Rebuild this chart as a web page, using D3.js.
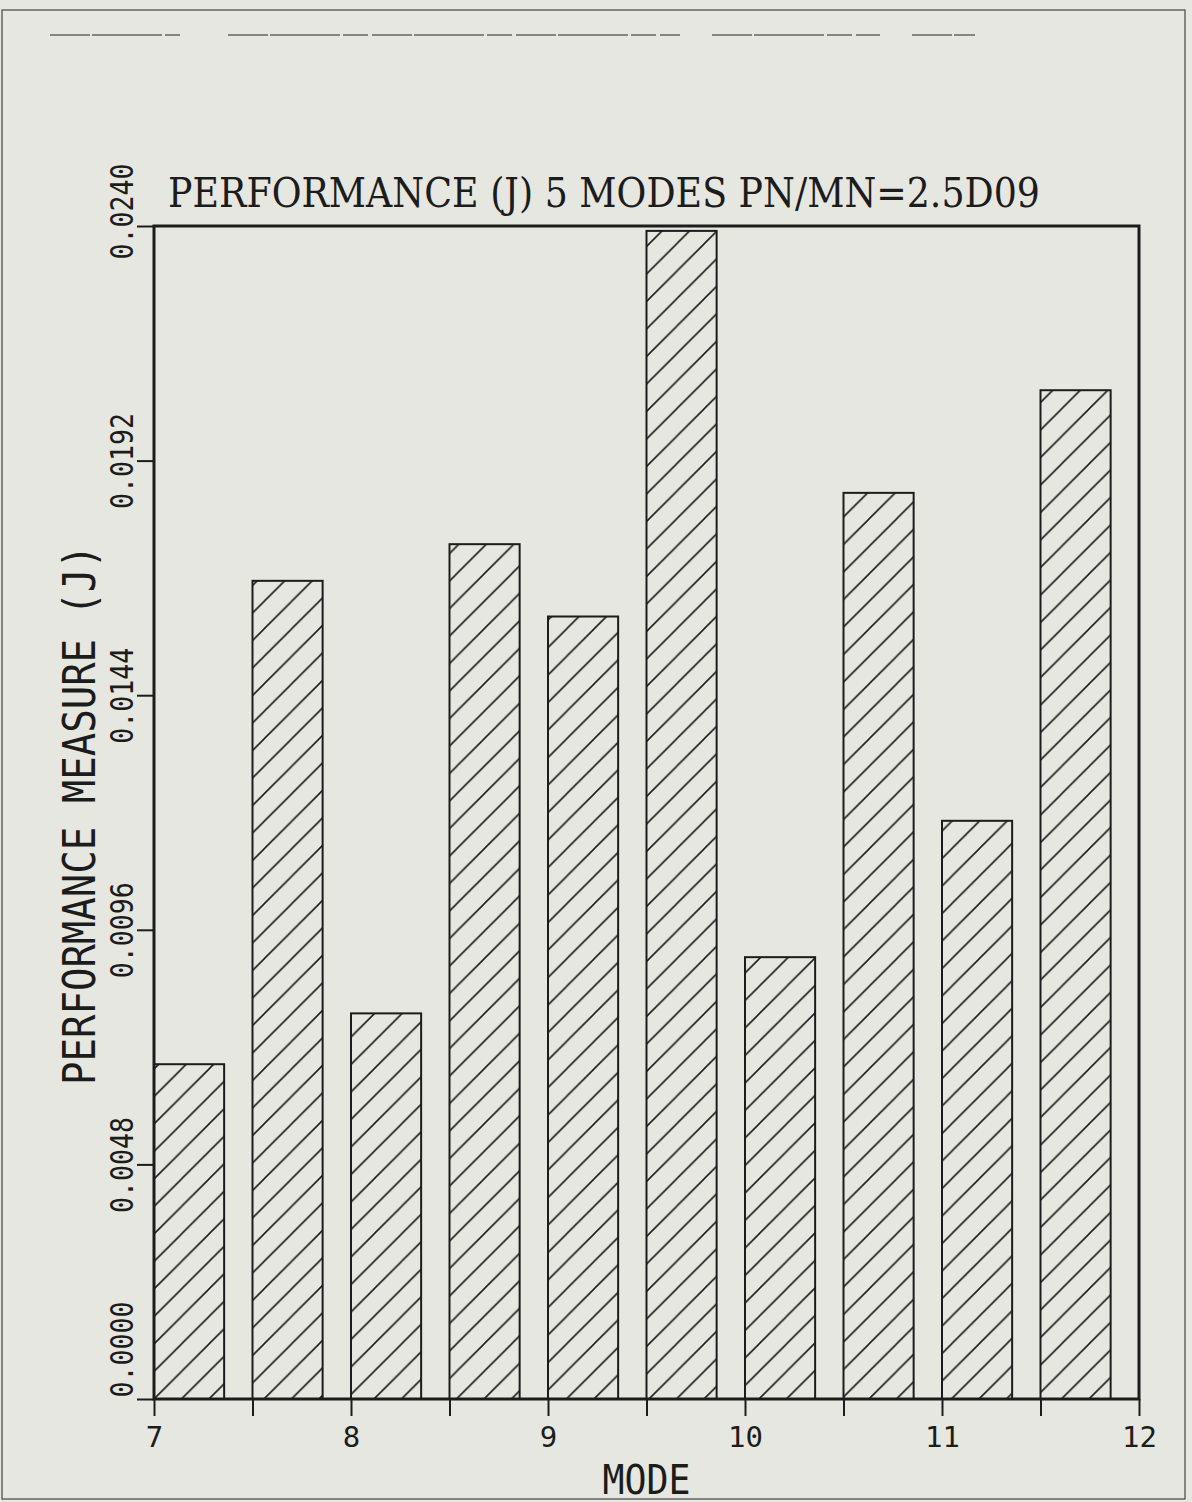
<!DOCTYPE html>
<html>
<head>
<meta charset="utf-8">
<script src="https://cdn.jsdelivr.net/npm/d3@7"></script>
<style>
  html, body { margin: 0; padding: 0; background: #e7e7e1; }
  svg { display: block; }
</style>
</head>
<body>
<svg id="chart" width="1192" height="1502"></svg>
<script>
// ---- data ----
const titleText = "PERFORMANCE (J) 5 MODES PN/MN=2.5D09";
const xLabel = "MODE";
const yLabel = "PERFORMANCE MEASURE (J)";
const barStarts = [7, 7.5, 8, 8.5, 9, 9.5, 10, 10.5, 11, 11.5];
const barValues = [0.00685, 0.01674, 0.00789, 0.01749, 0.01601, 0.02390, 0.00904, 0.01854, 0.01183, 0.02064];
const barWidthUnits = 0.356;
const xTicks = [7, 7.5, 8, 8.5, 9, 9.5, 10, 10.5, 11, 11.5, 12];
const yTicks = [0, 0.0048, 0.0096, 0.0144, 0.0192, 0.0240];
const yTickLabels = ["0.0000", "0.0048", "0.0096", "0.0144", "0.0192", "0.0240"];

(function () {
// ---- layout ----
const svg = d3.select("#chart");
const ink = "#1c1c1c";
const pL = 154, pR = 1139, pT = 226, pB = 1399;
const x = d3.scaleLinear().domain([7, 12]).range([pL, pR]);
const y = d3.scaleLinear().domain([0, 0.024]).range([pB, pT]);

// outer page frame
svg.append("rect").attr("x", 2).attr("y", 10).attr("width", 1183).attr("height", 1489)
  .attr("fill", "none").attr("stroke", "#444").attr("stroke-width", 1.2);
// faint broken line near top
const dashSegs = [[50, 180], [228, 680], [712, 880], [912, 975]];
svg.selectAll("line.dash").data(dashSegs).enter().append("line")
  .attr("x1", d => d[0]).attr("x2", d => d[1]).attr("y1", 35).attr("y2", 35)
  .attr("stroke", "#666").attr("stroke-width", 1.3).attr("stroke-dasharray", "40,2,70,3,25,4");

// hatch pattern
const defs = svg.append("defs");
const s = 27.5;
const pat = defs.append("pattern").attr("id", "hatch").attr("patternUnits", "userSpaceOnUse")
  .attr("width", s).attr("height", s).attr("x", pL).attr("y", pB);
pat.append("path")
  .attr("d", `M0,${s} L${s},0 M${-s/4},${s/4} L${s/4},${-s/4} M${s*3/4},${s*5/4} L${s*5/4},${s*3/4}`)
  .attr("stroke", ink).attr("stroke-width", 1.6).attr("fill", "none");

// bars
svg.selectAll("rect.bar").data(barStarts).enter().append("rect")
  .attr("class", "bar")
  .attr("x", d => x(d))
  .attr("width", d => x(d + barWidthUnits) - x(d))
  .attr("y", (d, i) => y(barValues[i]))
  .attr("height", (d, i) => y(0) - y(barValues[i]))
  .attr("fill", "url(#hatch)")
  .attr("stroke", ink).attr("stroke-width", 2);

// plot frame
svg.append("rect").attr("x", pL).attr("y", pT).attr("width", pR - pL).attr("height", pB - pT)
  .attr("fill", "none").attr("stroke", ink).attr("stroke-width", 3);

const axisFont = "'DejaVu Sans Mono', 'DejaVu Sans', sans-serif";

// x axis
const xAxis = d3.axisBottom(x).tickValues(xTicks).tickSize(17).tickSizeOuter(0)
  .tickFormat(d => Number.isInteger(d) ? String(d) : "");
const gx = svg.append("g").attr("transform", `translate(0,${pB})`).call(xAxis);
gx.select(".domain").remove();
gx.selectAll(".tick line").attr("stroke", ink).attr("stroke-width", 2);
gx.selectAll(".tick text").attr("fill", ink).attr("font-family", axisFont)
  .attr("font-size", 29).attr("dy", 0).attr("y", 48);

// y axis
const yAxis = d3.axisLeft(y).tickValues(yTicks).tickSize(17).tickSizeOuter(0)
  .tickFormat((d, i) => yTickLabels[i]);
const gy = svg.append("g").attr("transform", `translate(${pL},0)`).call(yAxis);
gy.select(".domain").remove();
gy.selectAll(".tick line").attr("stroke", ink).attr("stroke-width", 2);
gy.selectAll(".tick text")
  .attr("fill", ink).attr("font-family", axisFont).attr("font-size", 32)
  .attr("x", null).attr("dy", null)
  .attr("text-anchor", (d, i) => i === 0 ? "start" : "middle")
  .attr("transform", (d, i) => `translate(-21,${i === 0 ? -2 : (i === yTicks.length - 1 ? -15 : 0)}) rotate(-90)`)
  .attr("textLength", 96).attr("lengthAdjust", "spacingAndGlyphs");

// title
svg.append("text").attr("x", 168).attr("y", 207)
  .attr("font-family", "'DejaVu Serif', 'Liberation Serif', serif").attr("font-size", 41)
  .attr("fill", ink).attr("textLength", 872).attr("lengthAdjust", "spacingAndGlyphs")
  .text(titleText);

// x label
svg.append("text").attr("x", x(9.5)).attr("y", 1494).attr("text-anchor", "middle")
  .attr("font-family", axisFont).attr("font-size", 40).attr("fill", ink)
  .attr("textLength", 88).attr("lengthAdjust", "spacingAndGlyphs")
  .text(xLabel);

// y label
svg.append("text").attr("transform", `translate(95,815) rotate(-90)`).attr("text-anchor", "middle")
  .attr("font-family", axisFont).attr("font-size", 44).attr("fill", ink)
  .attr("textLength", 540).attr("lengthAdjust", "spacingAndGlyphs")
  .text(yLabel);
})();
</script>
</body>
</html>
